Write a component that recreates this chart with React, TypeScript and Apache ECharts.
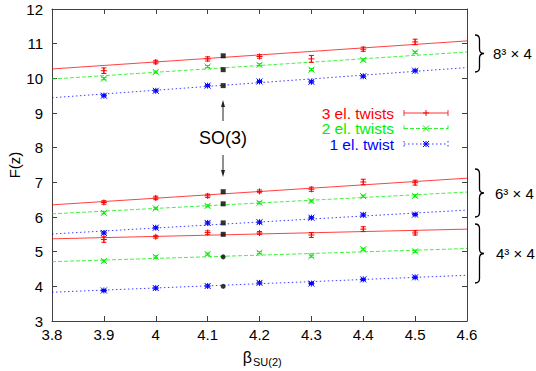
import React, { useEffect, useRef } from 'react';
import * as echarts from 'echarts';

// ---- data ----
const betas = [3.9, 4.0, 4.1, 4.2, 4.3, 4.4, 4.5];
const fitBetas = [3.8, 4.6];
const so3Beta = 4.13;

// 8^3 x 4
const red8 = [10.22, 10.47, 10.56, 10.63, 10.56, 10.84, 11.05];
const red8Err = [0.08, 0.05, 0.06, 0.05, 0.1, 0.06, 0.08];
const green8 = [9.99, 10.18, 10.34, 10.39, 10.25, 10.53, 10.75];
const blue8 = [9.5, 9.64, 9.79, 9.91, 9.9, 10.06, 10.22];
// 6^3 x 4
const red6 = [6.42, 6.55, 6.61, 6.74, 6.8, 7.01, 6.99];
const red6Err = [0.05, 0.05, 0.05, 0.04, 0.06, 0.08, 0.07];
const green6 = [6.12, 6.25, 6.32, 6.41, 6.46, 6.6, 6.61];
const blue6 = [5.54, 5.69, 5.83, 5.85, 5.98, 6.06, 6.07];
// 4^3 x 4
const red4 = [5.35, 5.43, 5.55, 5.54, 5.48, 5.65, 5.54];
const red4Err = [0.08, 0.04, 0.05, 0.04, 0.07, 0.07, 0.06];
const green4 = [4.73, 4.85, 4.93, 4.97, 4.87, 5.07, 5.01];
const blue4 = [3.88, 3.95, 4.01, 4.1, 4.08, 4.2, 4.26];
const smallErr = [0.03, 0.03, 0.03, 0.03, 0.03, 0.03, 0.03];

// fit lines (values at beta = 3.8 and 4.6)
const fitRed8 = [10.27, 11.08];
const fitGreen8 = [9.98, 10.76];
const fitBlue8 = [9.44, 10.31];
const fitRed6 = [6.35, 7.12];
const fitGreen6 = [6.09, 6.72];
const fitBlue6 = [5.51, 6.2];
const fitRed4 = [5.37, 5.65];
const fitGreen4 = [4.71, 5.09];
const fitBlue4 = [3.83, 4.32];

// SO(3) points
const so3Values = [10.65, 10.25, 9.79, 6.73, 6.38, 5.83, 5.5, 4.85, 4.0];
const so3Symbols = ['rect', 'rect', 'rect', 'rect', 'rect', 'rect', 'rect', 'circle', 'circle'];

const legendNames = ['3 el. twists', '2 el. twists', '1 el. twist'];
const volumeLabels = ['8³ × 4', '6³ × 4', '4³ × 4'];

const RED = '#ff0000';
const GREEN = '#00f000';
const BLUE = '#0000ff';
const FONT = '"Liberation Sans", Arial, Helvetica, sans-serif';
const AXIS = '#404040';

const Brace = echarts.graphic.extendShape({
  type: 'brace',
  shape: { x: 0, y: 0, w: 0, h: 0 },
  buildPath(ctx: any, shape: any) {
    const { x, y, w, h } = shape;
    const m = y + h / 2;
    const r = Math.min(w / 2, h / 8);
    const cx = x + w / 2;
    ctx.moveTo(x, y);
    ctx.quadraticCurveTo(cx, y, cx, y + r);
    ctx.lineTo(cx, m - r);
    ctx.quadraticCurveTo(cx, m, x + w, m);
    ctx.quadraticCurveTo(cx, m, cx, m + r);
    ctx.lineTo(cx, y + h - r);
    ctx.quadraticCurveTo(cx, y + h, x, y + h);
  },
});
echarts.graphic.registerShape('brace', Brace);

function markerLines(kind: string, x: number, y: number, m: number, style: any) {
  const out: any[] = [];
  if (kind === 'plus' || kind === 'star') {
    out.push({ type: 'line', shape: { x1: x - m, y1: y, x2: x + m, y2: y }, style });
    out.push({ type: 'line', shape: { x1: x, y1: y - m, x2: x, y2: y + m }, style });
  }
  if (kind === 'cross' || kind === 'star') {
    out.push({ type: 'line', shape: { x1: x - m, y1: y - m, x2: x + m, y2: y + m }, style });
    out.push({ type: 'line', shape: { x1: x - m, y1: y + m, x2: x + m, y2: y - m }, style });
  }
  return out;
}

function pointSeries(color: string, vals: number[], errs: number[], kind: string) {
  return {
    type: 'custom',
    coordinateSystem: 'cartesian2d',
    encode: { x: 0, y: 1 },
    z: 5,
    data: betas.map((b, i) => [b, vals[i], errs[i]]),
    renderItem: (params: any, api: any) => {
      const bx = api.value(0);
      const v = api.value(1);
      const e = api.value(2);
      const p = api.coord([bx, v]);
      const t = api.coord([bx, v + e]);
      const b = api.coord([bx, v - e]);
      const style = { stroke: color, lineWidth: 1 };
      const cap = 2.5;
      return {
        type: 'group',
        children: [
          { type: 'line', shape: { x1: t[0], y1: t[1], x2: b[0], y2: b[1] }, style },
          { type: 'line', shape: { x1: t[0] - cap, y1: t[1], x2: t[0] + cap, y2: t[1] }, style },
          { type: 'line', shape: { x1: b[0] - cap, y1: b[1], x2: b[0] + cap, y2: b[1] }, style },
          ...markerLines(kind, p[0], p[1], 3, style),
        ],
      };
    },
  };
}

function fitSeries(color: string, vals: number[], type: any) {
  return {
    type: 'line',
    data: fitBetas.map((b, i) => [b, vals[i]]),
    showSymbol: false,
    symbol: 'none',
    z: 3,
    lineStyle: { color, width: 1, type, opacity: 0.75 },
  };
}

const DASH = [4, 2];
const DOT = [1.5, 2.5];

function legendRow(i: number, color: string, kind: string, lineType: any, y: number) {
  const style = { stroke: color, lineWidth: 1 };
  const x1 = 404, x2 = 448, xm = 426;
  const lineStyle: any = { stroke: color, lineWidth: 1, opacity: 0.8 };
  if (Array.isArray(lineType)) lineStyle.lineDash = lineType;
  return [
    {
      type: 'text',
      x: 394,
      y,
      style: {
        text: legendNames[i],
        fill: color,
        font: `15.5px ${FONT}`,
        textAlign: 'right',
        textVerticalAlign: 'middle',
      },
    },
    { type: 'line', shape: { x1, y1: y, x2, y2: y }, style: lineStyle },
    { type: 'line', shape: { x1, y1: y - 3, x2: x1, y2: y + 3 }, style: lineStyle },
    { type: 'line', shape: { x1: x2, y1: y - 3, x2, y2: y + 3 }, style: lineStyle },
    ...markerLines(kind, xm, y, 3, style),
  ];
}

function braceGroup(y0: number, y1: number, label: string, tx: number) {
  return [
    { type: 'brace', shape: { x: 475, y: y0, w: 9, h: y1 - y0 }, style: { stroke: '#000', fill: 'none', lineWidth: 1.3 } },
    {
      type: 'text',
      x: tx,
      y: (y0 + y1) / 2,
      style: { text: label, fill: '#000', font: `15px ${FONT}`, textAlign: 'left', textVerticalAlign: 'middle' },
    },
  ];
}

export default function App() {
  const ref = useRef<HTMLDivElement>(null);
  useEffect(() => {
    document.body.style.margin = '0';
    if (!ref.current) return;
    const chart = echarts.init(ref.current, null, { renderer: 'svg' });
    const axisCommon = {
      axisLine: { show: true, lineStyle: { color: AXIS, width: 1 } },
      axisTick: { show: true, inside: true, length: 5, lineStyle: { color: AXIS } },
      splitLine: { show: false },
    };
    const label = { color: '#000', fontSize: 15, fontFamily: FONT };
    const arrowStyle = { stroke: '#222', lineWidth: 1 };
    const ax = 223;
    chart.setOption({
      animation: false,
      grid: { left: 52, right: 69, top: 9, bottom: 50 },
      xAxis: [
        {
          type: 'value', min: 3.8, max: 4.6, interval: 0.1, ...axisCommon,
          axisLabel: { ...label, margin: 6, formatter: (v: number) => String(+v.toFixed(1)) },
        },
        {
          type: 'value', position: 'top', min: 3.8, max: 4.6, interval: 0.1, ...axisCommon,
          axisLabel: { show: false },
        },
      ],
      yAxis: [
        {
          type: 'value', min: 3, max: 12, interval: 1, ...axisCommon,
          axisLabel: { ...label, margin: 9 },
        },
        {
          type: 'value', position: 'right', min: 3, max: 12, interval: 1, ...axisCommon,
          axisLabel: { show: false },
        },
      ],
      series: [
        fitSeries(RED, fitRed8, 'solid'),
        fitSeries(GREEN, fitGreen8, DASH),
        fitSeries(BLUE, fitBlue8, DOT),
        fitSeries(RED, fitRed6, 'solid'),
        fitSeries(GREEN, fitGreen6, DASH),
        fitSeries(BLUE, fitBlue6, DOT),
        fitSeries(RED, fitRed4, 'solid'),
        fitSeries(GREEN, fitGreen4, DASH),
        fitSeries(BLUE, fitBlue4, DOT),
        pointSeries(RED, red8, red8Err, 'plus'),
        pointSeries(GREEN, green8, smallErr, 'cross'),
        pointSeries(BLUE, blue8, smallErr, 'star'),
        pointSeries(RED, red6, red6Err, 'plus'),
        pointSeries(GREEN, green6, smallErr, 'cross'),
        pointSeries(BLUE, blue6, smallErr, 'star'),
        pointSeries(RED, red4, red4Err, 'plus'),
        pointSeries(GREEN, green4, smallErr, 'cross'),
        pointSeries(BLUE, blue4, smallErr, 'star'),
        {
          type: 'scatter',
          z: 6,
          data: so3Values.map((v, i) => ({ value: [so3Beta, v], symbol: so3Symbols[i] })),
          symbolSize: 5,
          itemStyle: { color: '#000' },
        },
      ],
      graphic: [
        // axis titles
        {
          type: 'text', x: 14, y: 165, rotation: Math.PI / 2,
          style: { text: 'F(z)', fill: '#000', font: `15px ${FONT}`, textAlign: 'center', textVerticalAlign: 'middle' },
        },
        {
          type: 'text', x: 252, y: 357,
          style: { text: 'β', fill: '#000', font: `16px ${FONT}`, textAlign: 'right', textVerticalAlign: 'middle' },
        },
        {
          type: 'text', x: 253, y: 362,
          style: { text: 'SU(2)', fill: '#000', font: `11px ${FONT}`, textAlign: 'left', textVerticalAlign: 'middle' },
        },
        // SO(3) annotation
        {
          type: 'text', x: ax, y: 138,
          style: { text: 'SO(3)', fill: '#000', font: `18px ${FONT}`, textAlign: 'center', textVerticalAlign: 'middle' },
        },
        { type: 'line', shape: { x1: ax, y1: 121, x2: ax, y2: 103 }, style: arrowStyle },
        { type: 'polygon', shape: { points: [[ax, 100], [ax - 2, 107], [ax + 2, 107]] }, style: { fill: '#222' } },
        { type: 'line', shape: { x1: ax, y1: 155, x2: ax, y2: 174 }, style: arrowStyle },
        { type: 'polygon', shape: { points: [[ax, 177], [ax - 2, 170], [ax + 2, 170]] }, style: { fill: '#222' } },
        // legend
        ...legendRow(0, RED, 'plus', 'solid', 113),
        ...legendRow(1, GREEN, 'cross', DASH, 128.5),
        ...legendRow(2, BLUE, 'star', DOT, 144),
        // volume braces
        ...braceGroup(35, 72, volumeLabels[0], 493),
        ...braceGroup(169, 217, volumeLabels[1], 495),
        ...braceGroup(224, 283, volumeLabels[2], 496),
      ],
    });
    return () => chart.dispose();
  }, []);
  return <div ref={ref} style={{ width: 536, height: 371 }} />;
}
